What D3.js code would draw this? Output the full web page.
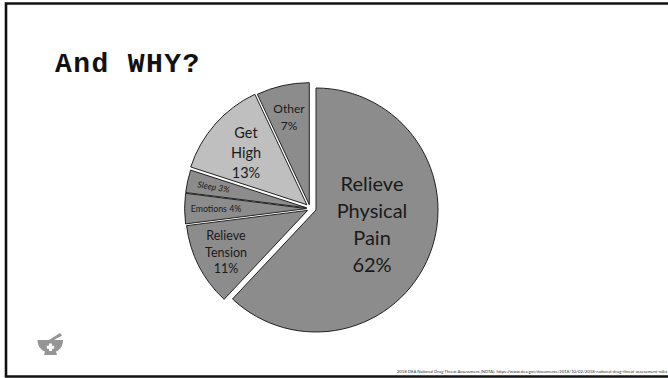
<!DOCTYPE html>
<html><head><meta charset="utf-8">
<style>html,body{margin:0;padding:0;background:#fff;overflow:hidden}svg{display:block}</style>
<script src="https://cdn.jsdelivr.net/npm/d3@7/dist/d3.min.js"></script>
</head><body>
<script>
const categories = ["Relieve Physical Pain","Relieve Tension","Emotions","Sleep","Get High","Other"];
const values = [62,11,4,3,13,7];
const labelLines = [["Relieve","Physical","Pain","62%"],["Relieve","Tension","11%"],["Emotions 4%"],["Sleep 3%"],["Get","High","13%"],["Other","7%"]];
const title = "And WHY?";
const source = "2018 DEA National Drug Threat Assessment (NDTA). https://www.dea.gov/documents/2018/10/02/2018-national-drug-threat-assessment-ndta";

const W=668,H=378;
const shift=[[8,3],[-0.4,3.4],[-1.4,1.6],[-1.3,0.8],[-1.2,-2.3],[1.3,-2.3]];
const fills=["#8c8c8c","#8c8c8c","#8c8c8c","#8c8c8c","#bfbfbf","#8c8c8c"];
const fontSizes=[20,12.5,8.8,8.6,14.5,12];
const lineHeights=[27,16.5,0,0,20,17];
const labelPos=[[372,191],[226,240],[216,212],[213,190],[246,138],[289,113]];
const rot=[0,0,0,10,0,0];
const cx=308,cy=207,R=122;

const svg=d3.select("body").append("svg").attr("width",W).attr("height",H);
svg.append("rect").attr("width",W).attr("height",H).attr("fill","#fff");
svg.append("path").attr("d",`M${W} 3.5 H6 V376.5 H${W}`)
  .attr("fill","none").attr("stroke","#111").attr("stroke-width",2.6);

svg.append("text").attr("x",55).attr("y",72).text(title)
  .attr("font-family","'Liberation Mono',monospace").attr("font-weight","bold").attr("font-size",28)
  .attr("letter-spacing",1.4).attr("fill","#111");

const pie=d3.pie().sort(null).value(d=>d)(values);
const arc=d3.arc().innerRadius(0).outerRadius(R);
svg.append("g").selectAll("path").data(pie).join("path")
  .attr("d",arc)
  .attr("transform",(d,i)=>`translate(${cx+shift[i][0]},${cy+shift[i][1]})`)
  .attr("fill",(d,i)=>fills[i]).attr("stroke","#222").attr("stroke-width",1);

labelLines.forEach((lines,i)=>{
  const t=svg.append("text").attr("text-anchor","middle")
    .attr("font-family","Lato,Carlito,sans-serif").attr("font-size",fontSizes[i]).attr("fill","#1a1a1a")
    .attr("transform",`translate(${labelPos[i][0]},${labelPos[i][1]}) rotate(${rot[i]})`);
  if(i===3) t.attr("font-style","italic");
  lines.forEach((l,k)=>t.append("tspan").attr("x",0).attr("y",k*lineHeights[i]).text(l));
});

// mortar and pestle icon
const ic=svg.append("g").attr("fill","#959595");
ic.append("path").attr("d","M37.5 340 H63 C63 346 60 350 56 351.5 L57 355 H44 L45 351.5 C41 350 37.5 346 37.5 340 Z");
ic.append("path").attr("d","M49 340 L60 333 L62 335.5 L54 340 Z");
ic.append("path").attr("d","M49 343.5 h3 v2.2 h2.2 v3 h-2.2 v2.2 h-3 v-2.2 h-2.2 v-3 h2.2 z").attr("fill","#fff");

svg.append("text").attr("x",667).attr("y",373).attr("text-anchor","end").text(source)
  .attr("font-family","Lato,Carlito,sans-serif").attr("font-size",4.25).attr("fill","#333");
</script>
</body></html>
